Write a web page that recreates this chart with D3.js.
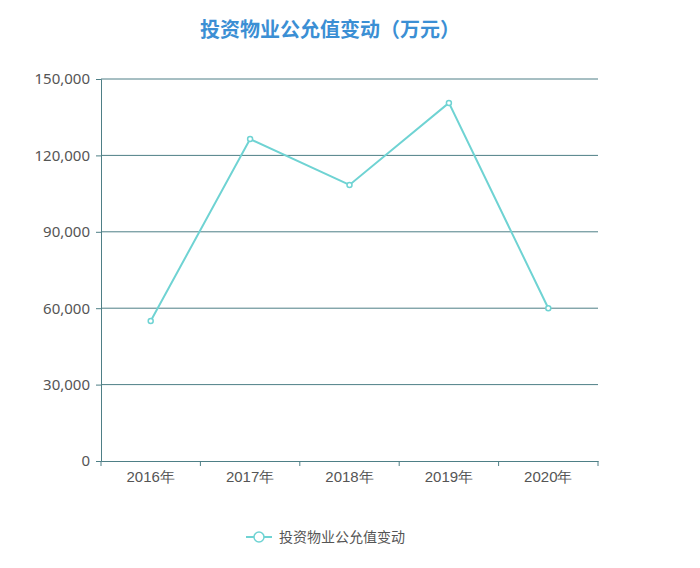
<!DOCTYPE html>
<html><head><meta charset="utf-8">
<script src="https://cdn.jsdelivr.net/npm/d3@7/dist/d3.min.js"></script>
<style>body{margin:0;background:#fff;font-family:"Noto Sans CJK SC","Noto Sans",sans-serif;}</style>
</head><body><svg id="c" width="700" height="568"></svg>
<script>
const categories = ["2016年","2017年","2018年","2019年","2020年"];
const values = [55000,126400,108400,140600,60000];
const yTicks = [0,30000,60000,90000,120000,150000];
const seriesName = "投资物业公允值变动";
const title = "投资物业公允值变动（万元）";

const svg = d3.select("#c");
const L=101,R=598,T=79,B=461;
const x = d3.scaleBand().domain(categories).range([L,R]);
const y = d3.scaleLinear().domain([0,150000]).range([B,T]);
const axisColor="#4e7f86", lineColor="#6fd3d3";

svg.append("text").attr("x",330).attr("y",37).attr("text-anchor","middle")
 .attr("font-size",20).attr("font-weight","bold").attr("fill","#3b8fd4").text(title);

svg.append("g").selectAll("line").data(yTicks.filter(d=>d>0)).join("line")
 .attr("x1",L).attr("x2",R).attr("y1",d=>y(d)).attr("y2",d=>y(d))
 .attr("stroke",axisColor).attr("stroke-width",1);

const ya = svg.append("g").attr("transform",`translate(${L},0)`)
 .call(d3.axisLeft(y).tickValues(yTicks).tickFormat(d3.format(",")).tickSize(5).tickPadding(6));
ya.select(".domain").attr("stroke",axisColor);
ya.selectAll(".tick line").attr("stroke",axisColor);
ya.selectAll("text").attr("font-size",15).attr("fill","#555").attr("font-family","Noto Sans, sans-serif");

const xa = svg.append("g").attr("transform",`translate(0,${B})`)
 .call(d3.axisBottom(x).tickSize(0).tickPadding(10));
xa.select(".domain").attr("stroke",axisColor);
xa.selectAll("text").attr("font-size",15).attr("fill","#555");
svg.append("g").selectAll("line").data(d3.range(categories.length+1)).join("line")
 .attr("x1",i=>L+i*x.step()).attr("x2",i=>L+i*x.step()).attr("y1",B).attr("y2",B+5)
 .attr("stroke",axisColor);

const pts = categories.map((c,i)=>[x(c)+x.bandwidth()/2,y(values[i])]);
svg.append("path").attr("d",d3.line()(pts)).attr("fill","none").attr("stroke",lineColor).attr("stroke-width",2);
svg.append("g").selectAll("circle").data(pts).join("circle")
 .attr("cx",d=>d[0]).attr("cy",d=>d[1]).attr("r",2.5).attr("fill","#fff").attr("stroke",lineColor).attr("stroke-width",1.5);

svg.append("line").attr("x1",246).attr("x2",272).attr("y1",537).attr("y2",537).attr("stroke",lineColor).attr("stroke-width",2);
svg.append("circle").attr("cx",259).attr("cy",537).attr("r",5).attr("fill","#fff").attr("stroke",lineColor).attr("stroke-width",1.5);
svg.append("text").attr("x",279).attr("y",542).attr("font-size",14).attr("fill","#555").text(seriesName);
</script></body></html>
